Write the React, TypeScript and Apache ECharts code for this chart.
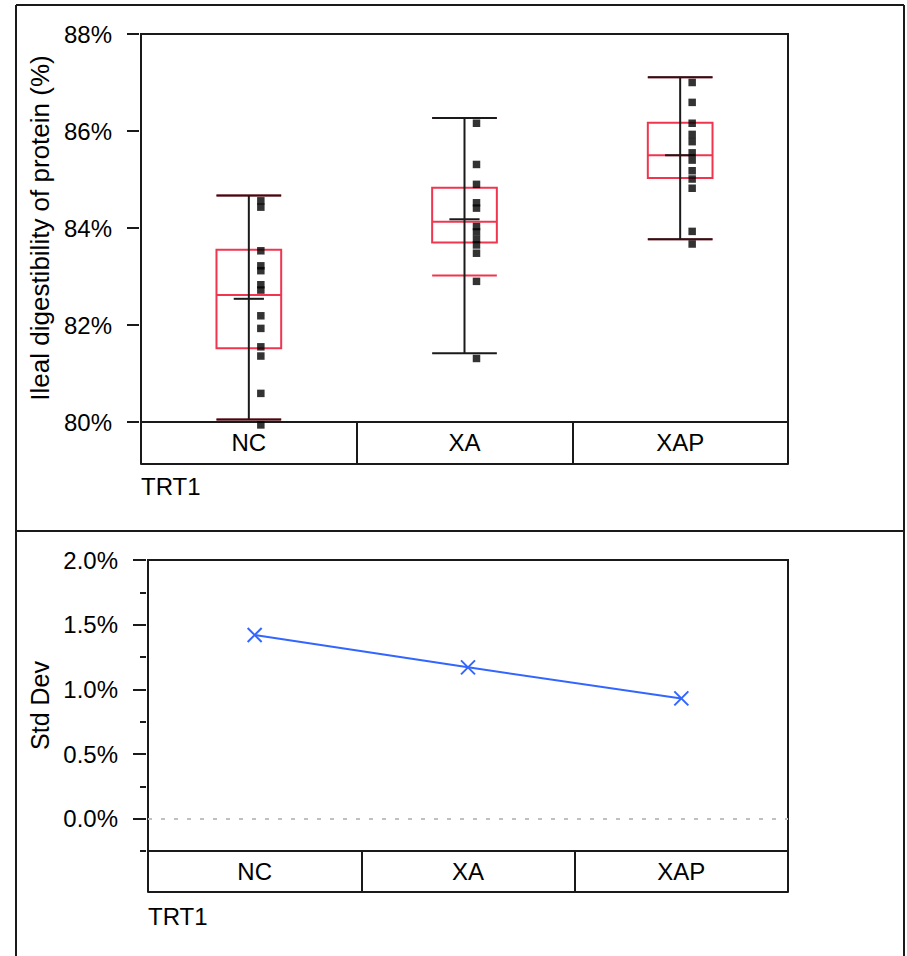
import React, { useEffect, useRef } from "react";
import * as echarts from "echarts";

// Treatment groups
const groups = ["NC", "XA", "XAP"];

// Individual ileal protein digestibility observations (%)
const ncValues = [84.56, 84.43, 83.53, 83.22, 83.12, 82.83, 82.72, 82.19, 81.93, 81.55, 81.36, 80.59, 79.94];
const xaValues = [86.16, 85.31, 84.9, 84.52, 84.41, 84.03, 83.92, 83.77, 83.65, 83.48, 82.9, 81.31];
const xapValues = [87.0, 86.59, 86.16, 85.93, 85.78, 85.55, 85.4, 85.18, 85.01, 84.82, 83.93, 83.67];

// Range bars (black)
const rangeLow = [80.05, 81.42, 83.77];
const rangeHigh = [84.67, 86.27, 87.11];

// Box plot summary (red)
const boxQ1 = [81.52, 83.7, 85.03];
const boxMedian = [82.62, 84.13, 85.5];
const boxQ3 = [83.55, 84.83, 86.17];
const whiskerLow = [80.05, 83.02, 83.77];
const whiskerHigh = [84.67, 86.27, 87.11];

// Group means (short black bar)
const groupMeans = [82.54, 84.18, 85.5];

// Standard deviation per group (%)
const stdDev = [1.42, 1.17, 0.93];

// Axis ticks
const topTicks = { min: 80, max: 88, step: 2 };
const sdMajorTicks = [0, 0.5, 1.0, 1.5, 2.0];
const sdMinorTicks = [-0.25, 0.25, 0.75, 1.25, 1.75];

const FONT = "'Liberation Sans', Arial, Helvetica, sans-serif";
const INK = "#1a1a1a";
const RED = "#f0364f";
const BLUE = "#3366ff";

const valueSets = [ncValues, xaValues, xapValues];

function buildOption(): echarts.EChartsCoreOption {
  const boxData = groups.map((_, i) => [
    i,
    rangeLow[i],
    rangeHigh[i],
    boxQ1[i],
    boxMedian[i],
    boxQ3[i],
    whiskerLow[i],
    whiskerHigh[i],
    groupMeans[i],
  ]);

  const pointData: number[][] = [];
  valueSets.forEach((vals, i) => vals.forEach((v) => pointData.push([i, v])));

  const hline = (x1: number, x2: number, y: number, color: string) => ({
    type: "line",
    shape: { x1, y1: y, x2, y2: y },
    style: { stroke: color, lineWidth: 2 },
  });

  // Red box (quartiles, median, whisker ends) with black range bar and mean tick on top
  const renderBox = (params: any, api: any) => {
    const cat = api.value(0);
    const band = api.size([1, 0])[0];
    const half = band * 0.15;
    const meanHalf = band * 0.07;
    const y = (k: number) => api.coord([cat, api.value(k)])[1];
    const cx = api.coord([cat, api.value(1)])[0];
    const yQ1 = y(3);
    const yQ3 = y(5);
    return {
      type: "group",
      children: [
        {
          type: "rect",
          shape: { x: cx - half, y: yQ3, width: half * 2, height: yQ1 - yQ3 },
          style: { fill: "none", stroke: RED, lineWidth: 2 },
        },
        hline(cx - half, cx + half, y(4), RED),
        hline(cx - half, cx + half, y(6), RED),
        hline(cx - half, cx + half, y(7), RED),
        {
          type: "line",
          shape: { x1: cx, y1: y(1), x2: cx, y2: y(2) },
          style: { stroke: INK, lineWidth: 2 },
        },
        hline(cx - half, cx + half, y(1), INK),
        hline(cx - half, cx + half, y(2), INK),
        hline(cx - meanHalf, cx + meanHalf, y(8), INK),
      ],
    };
  };

  const labelStyle = { color: "#000", fontFamily: FONT, fontSize: 24 };

  // Category strip under each plot: tick marks form the cell dividers, a second axis closes the strip
  const stripAxes = (gridIndex: number, depth: number, margin: number) => [
    {
      gridIndex,
      type: "category",
      data: groups,
      boundaryGap: true,
      position: "bottom",
      axisLine: { show: true, onZero: false, lineStyle: { color: INK, width: 2 } },
      axisTick: { show: true, length: depth, interval: 0, lineStyle: { color: INK, width: 2 } },
      axisLabel: { ...labelStyle, margin, verticalAlign: "middle", interval: 0 },
      splitLine: { show: false },
    },
    {
      gridIndex,
      type: "category",
      data: groups,
      position: "bottom",
      offset: depth,
      axisLine: { show: true, onZero: false, lineStyle: { color: INK, width: 2 } },
      axisTick: { show: false },
      axisLabel: { show: false },
    },
  ];

  return {
    animation: false,
    backgroundColor: "#fff",
    grid: [
      { left: 141, top: 34, width: 647, height: 388, show: true, borderColor: INK, borderWidth: 2, containLabel: false },
      { left: 148, top: 560, width: 640, height: 291, show: true, borderColor: INK, borderWidth: 2, containLabel: false },
    ],
    xAxis: [...stripAxes(0, 42, 20), ...stripAxes(1, 41, 20)],
    yAxis: [
      {
        gridIndex: 0,
        type: "value",
        position: "left",
        min: topTicks.min,
        max: topTicks.max,
        interval: topTicks.step,
        offset: 2,
        axisLine: { show: false },
        axisTick: { show: true, length: 12, lineStyle: { color: INK, width: 2 } },
        axisLabel: { ...labelStyle, margin: 27, formatter: "{value}%" },
        splitLine: { show: false },
        name: "Ileal digestibility of protein (%)",
        nameLocation: "middle",
        nameGap: 84,
        nameTextStyle: { color: "#000", fontFamily: FONT, fontSize: 26 },
      },
      {
        gridIndex: 1,
        type: "value",
        position: "left",
        min: -0.25,
        max: 2.0,
        offset: 2,
        axisLine: { show: false },
        axisTick: { show: true, length: 13, customValues: sdMajorTicks, lineStyle: { color: INK, width: 2 } },
        axisLabel: {
          ...labelStyle,
          margin: 28,
          customValues: sdMajorTicks,
          formatter: (v: number) => v.toFixed(1) + "%",
        },
        splitLine: { show: false },
        name: "Std Dev",
        nameLocation: "middle",
        nameGap: 88,
        nameTextStyle: { color: "#000", fontFamily: FONT, fontSize: 25 },
      },
      {
        gridIndex: 1,
        type: "value",
        position: "left",
        min: -0.25,
        max: 2.0,
        offset: 2,
        axisLine: { show: false },
        axisTick: { show: true, length: 6, customValues: sdMinorTicks, lineStyle: { color: INK, width: 2 } },
        axisLabel: { show: false },
        splitLine: { show: false },
      },
    ],
    series: [
      {
        type: "custom",
        xAxisIndex: 0,
        yAxisIndex: 0,
        renderItem: renderBox,
        encode: { x: 0, y: [1, 2] },
        data: boxData,
        z: 2,
      },
      {
        type: "scatter",
        xAxisIndex: 0,
        yAxisIndex: 0,
        symbol: "rect",
        symbolSize: 7.5,
        symbolOffset: [12, 0],
        itemStyle: { color: "#000" },
        clip: false,
        data: pointData,
        z: 3,
      },
      {
        type: "line",
        xAxisIndex: 2,
        yAxisIndex: 1,
        data: stdDev,
        symbol: "path://M0,0L10,10M10,0L0,10",
        symbolSize: 14,
        itemStyle: { color: BLUE, borderColor: BLUE, borderWidth: 2 },
        lineStyle: { color: BLUE, width: 2 },
        markLine: {
          silent: true,
          symbol: "none",
          label: { show: false },
          lineStyle: { color: "#c0c0c0", width: 2, type: [4, 9] },
          data: [{ yAxis: 0 }],
        },
      },
    ],
    graphic: [
      { type: "line", shape: { x1: 16, y1: 5, x2: 904, y2: 5 }, style: { stroke: INK, lineWidth: 2 } },
      { type: "line", shape: { x1: 16, y1: 5, x2: 16, y2: 956 }, style: { stroke: INK, lineWidth: 2 } },
      { type: "line", shape: { x1: 904, y1: 5, x2: 904, y2: 956 }, style: { stroke: INK, lineWidth: 2 } },
      { type: "line", shape: { x1: 16, y1: 531, x2: 904, y2: 531 }, style: { stroke: INK, lineWidth: 2 } },
      {
        type: "text",
        x: 141,
        y: 486,
        style: { text: "TRT1", fill: "#000", font: `24px ${FONT}`, textVerticalAlign: "middle" },
      },
      {
        type: "text",
        x: 148,
        y: 916,
        style: { text: "TRT1", fill: "#000", font: `24px ${FONT}`, textVerticalAlign: "middle" },
      },
    ],
  };
}

export default function App() {
  const ref = useRef<HTMLDivElement>(null);
  useEffect(() => {
    if (!ref.current) return;
    const chart = echarts.init(ref.current, null, { renderer: "svg" });
    chart.setOption(buildOption());
    return () => chart.dispose();
  }, []);
  return (
    <div
      ref={ref}
      style={{ position: "absolute", left: 0, top: 0, width: 907, height: 956, background: "#fff" }}
    />
  );
}
